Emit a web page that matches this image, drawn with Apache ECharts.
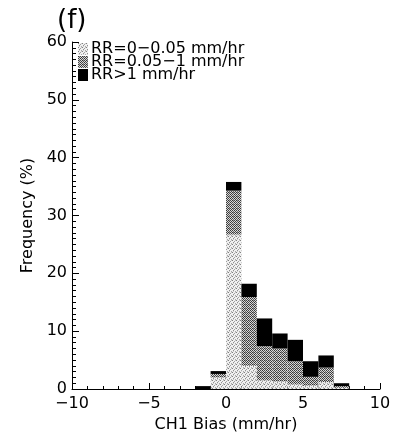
<!DOCTYPE html>
<html><head><meta charset="utf-8">
<script src="https://cdn.jsdelivr.net/npm/echarts@6/dist/echarts.min.js"></script>
<style>html,body{margin:0;padding:0;background:#fff}#c{width:401px;height:440px}</style>
</head><body><div id="c"></div>
<script>
// Histogram bins (left edges, width 1 mm/hr)
var binStart = [-2, -1, 0, 1, 2, 3, 4, 5, 6, 7];
var binWidth = 1;
// Frequency (%) per rain-rate class
var rrLight  = [0,   2.0, 26.7, 4.0, 1.5, 1.3, 0.8, 0.6, 1.2, 0.2];
var rrMedium = [0,   0.6,  7.6, 11.9, 5.9, 5.7, 4.0, 1.5, 2.5, 0.3];
var rrHeavy  = [0.5, 0.5,  1.5, 2.3, 4.8, 2.6, 3.7, 2.7, 2.1, 0.5];
var seriesNames = ['RR=0\u22120.05 mm/hr', 'RR=0.05\u22121 mm/hr', 'RR>1 mm/hr'];
var xTicks = [-10, -5, 0, 5, 10];
var yTicks = [0, 10, 20, 30, 40, 50, 60];

function makePattern(size, bg, dots) {
  var cv = document.createElement('canvas');
  cv.width = size; cv.height = size;
  var ctx = cv.getContext('2d');
  ctx.fillStyle = bg; ctx.fillRect(0, 0, size, size);
  dots.forEach(function (d) { ctx.fillStyle = d[2]; ctx.fillRect(d[0], d[1], 1, 1); });
  return { image: cv, repeat: 'repeat' };
}
var lightPat = makePattern(4, '#f0f0f0', [[0,0,'#808080'],[2,1,'#a0a0a0'],[1,2,'#909090'],[3,3,'#a8a8a8'],[3,0,'#c8c8c8'],[1,3,'#d0d0d0']]);
var medPat = makePattern(4, '#d8d8d8', [[0,0,'#333'],[2,0,'#444'],[1,1,'#555'],[3,1,'#3a3a3a'],[0,2,'#444'],[2,2,'#333'],[1,3,'#666'],[3,3,'#444'],[1,0,'#999']]);

var layers = [rrLight, rrMedium, rrHeavy];
var colors = [lightPat, medPat, '#000'];
var base = binStart.map(function () { return 0; });
var series = layers.map(function (arr, k) {
  var data = arr.map(function (v, i) {
    var b = base[i];
    base[i] = b + v;
    return [binStart[i], binStart[i] + binWidth, b, b + v];
  });
  return {
    name: seriesNames[k], type: 'custom', itemStyle: { color: colors[k] },
    encode: { x: [0, 1], y: [2, 3] },
    renderItem: function (params, api) {
      if (api.value(3) - api.value(2) <= 0) return;
      var p0 = api.coord([api.value(0), api.value(3)]);
      var p1 = api.coord([api.value(1), api.value(2)]);
      return { type: 'rect', shape: { x: p0[0], y: p0[1], width: p1[0] - p0[0], height: p1[1] - p0[1] }, style: api.style() };
    },
    data: data
  };
});

var font = 'DejaVu Sans';
var minus = function (v) { return v < 0 ? '\u2212' + (-v) : String(v); };
var chart = echarts.init(document.getElementById('c'));
chart.setOption({
  animation: false,
  backgroundColor: '#fff',
  title: { text: '(f)', left: 52, top: 3, textStyle: { fontFamily: font, fontSize: 26, fontWeight: 'normal', color: '#000' } },
  legend: {
    orient: 'vertical', left: 78, top: 41, padding: 0, itemGap: -3, itemWidth: 10, itemHeight: 12,
    icon: 'rect',
    textStyle: { fontFamily: font, fontSize: 16, color: '#000', padding: [0,0,0,-2] },
    data: seriesNames
  },
  grid: { left: 72, right: 21, top: 42, bottom: 51 },
  xAxis: {
    type: 'value', min: xTicks[0], max: xTicks[xTicks.length - 1], interval: 5,
    name: 'CH1 Bias (mm/hr)', nameLocation: 'middle', nameGap: 26,
    nameTextStyle: { fontFamily: font, fontSize: 16, color: '#000' },
    axisLine: { onZero: false, lineStyle: { color: '#000', width: 1 } },
    axisTick: { inside: true, length: 6, lineStyle: { color: '#000' } },
    minorTick: { show: true, splitNumber: 5, length: 3, lineStyle: { color: '#000' } },
    axisLabel: { fontFamily: font, fontSize: 16, color: '#000', margin: 7, formatter: minus },
    splitLine: { show: false }
  },
  yAxis: {
    type: 'value', min: yTicks[0], max: yTicks[yTicks.length - 1], interval: 10,
    name: 'Frequency (%)', nameLocation: 'middle', nameGap: 34,
    nameTextStyle: { fontFamily: font, fontSize: 16, color: '#000' },
    axisLine: { show: true, onZero: false, lineStyle: { color: '#000', width: 1 } },
    axisTick: { show: true, inside: true, length: 7, lineStyle: { color: '#000' } },
    minorTick: { show: true, splitNumber: 10, length: 4, lineStyle: { color: '#000' } },
    axisLabel: { fontFamily: font, fontSize: 16, color: '#000', margin: 5 },
    splitLine: { show: false }
  },
  series: series
});
</script></body></html>
